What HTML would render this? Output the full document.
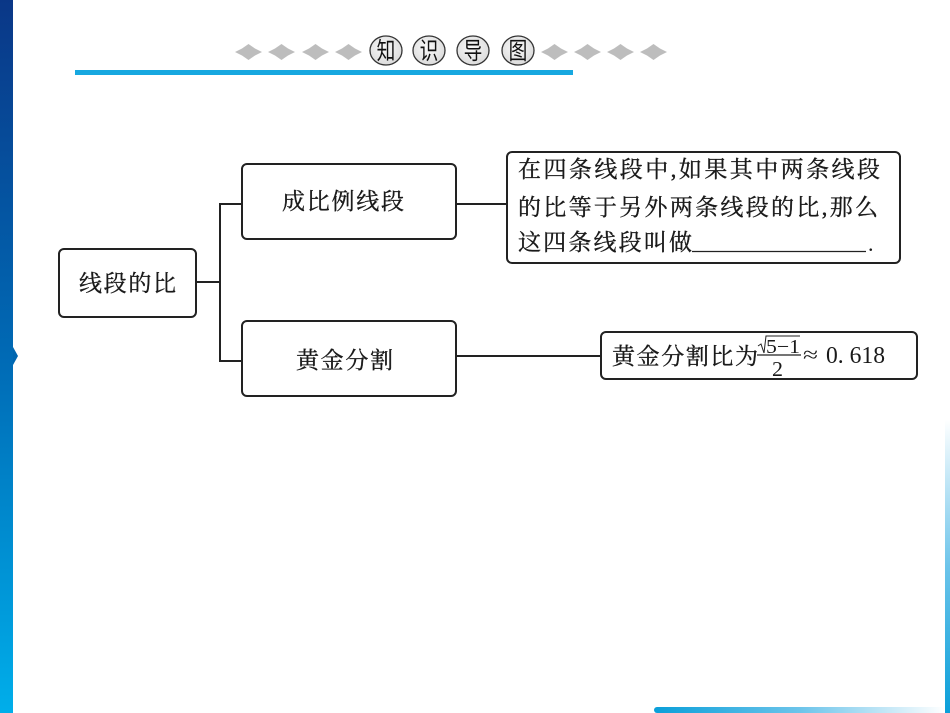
<!DOCTYPE html>
<html>
<head>
<meta charset="utf-8">
<style>
html,body{margin:0;padding:0;background:#fff;}
body{width:950px;height:713px;overflow:hidden;position:relative;}
svg{position:absolute;left:0;top:0;}
.cjk{font-family:"Liberation Serif","Noto Serif CJK SC",serif;fill:#1a1a1a;stroke:#1a1a1a;stroke-width:0.35;}
.hd{font-family:"Liberation Sans","Noto Sans CJK SC",sans-serif;fill:#111;}
.num{font-family:"Liberation Serif","Noto Serif CJK SC",serif;fill:#1a1a1a;}
</style>
</head>
<body>
<svg width="950" height="713" viewBox="0 0 950 713" xmlns="http://www.w3.org/2000/svg">
  <defs>
    <linearGradient id="lb" x1="0" y1="0" x2="0" y2="1">
      <stop offset="0" stop-color="#0a3787"/>
      <stop offset="0.5" stop-color="#006ab5"/>
      <stop offset="1" stop-color="#00aeea"/>
    </linearGradient>
    <linearGradient id="rb" x1="0" y1="0" x2="0" y2="1">
      <stop offset="0" stop-color="#ffffff"/>
      <stop offset="0.5" stop-color="#6cc4ea"/>
      <stop offset="1" stop-color="#0a9fd9"/>
    </linearGradient>
    <linearGradient id="bb" x1="0" y1="0" x2="1" y2="0">
      <stop offset="0" stop-color="#0a9fd9"/>
      <stop offset="0.5" stop-color="#6cc4ea"/>
      <stop offset="1" stop-color="#ffffff"/>
    </linearGradient>
    <radialGradient id="cg" cx="0.45" cy="0.4" r="0.7">
      <stop offset="0" stop-color="#fafafa"/>
      <stop offset="1" stop-color="#d6d6d6"/>
    </radialGradient>
    <g id="dia">
      <polygon points="0,0 7,-3.5 13.5,-8 20,-3.5 27,0 20,3.5 13.5,8 7,3.5" fill="#bdbdbd"/>
    </g>
  </defs>

  <!-- left bar -->
  <rect x="0" y="0" width="13" height="713" fill="url(#lb)"/>
  <polygon points="13,347 18,356 13,365" fill="#0066b0"/>

  <!-- right bar and bottom bar -->
  <rect x="945" y="420" width="5" height="293" fill="url(#rb)"/>
  <rect x="654" y="707" width="291" height="6" rx="3" fill="url(#bb)"/>

  <!-- header -->
  <use href="#dia" x="235" y="52"/>
  <use href="#dia" x="268" y="52"/>
  <use href="#dia" x="302" y="52"/>
  <use href="#dia" x="335" y="52"/>
  <use href="#dia" x="541" y="52"/>
  <use href="#dia" x="574" y="52"/>
  <use href="#dia" x="607" y="52"/>
  <use href="#dia" x="640" y="52"/>

  <ellipse cx="386" cy="50.5" rx="16" ry="14.5" fill="url(#cg)" stroke="#333" stroke-width="1.3"/>
  <ellipse cx="429" cy="50.5" rx="16" ry="14.5" fill="url(#cg)" stroke="#333" stroke-width="1.3"/>
  <ellipse cx="473" cy="50.5" rx="16" ry="14.5" fill="url(#cg)" stroke="#333" stroke-width="1.3"/>
  <ellipse cx="518" cy="50.5" rx="16" ry="14.5" fill="url(#cg)" stroke="#333" stroke-width="1.3"/>
  <text class="hd" x="386" y="59" font-size="24" text-anchor="middle" transform="translate(386 0) scale(0.78 1) translate(-386 0)">知</text>
  <text class="hd" x="429" y="59" font-size="24" text-anchor="middle" transform="translate(429 0) scale(0.78 1) translate(-429 0)">识</text>
  <text class="hd" x="473" y="59" font-size="24" text-anchor="middle" transform="translate(473 0) scale(0.78 1) translate(-473 0)">导</text>
  <text class="hd" x="518" y="59" font-size="24" text-anchor="middle" transform="translate(518 0) scale(0.78 1) translate(-518 0)">图</text>

  <rect x="75" y="70" width="498" height="5" fill="#17a8e0"/>

  <!-- connectors -->
  <g stroke="#222" stroke-width="2" fill="none">
    <line x1="196" y1="282" x2="220" y2="282"/>
    <line x1="220" y1="204" x2="220" y2="362"/>
    <line x1="219" y1="204" x2="242" y2="204"/>
    <line x1="219" y1="361" x2="242" y2="361"/>
    <line x1="456" y1="204" x2="507" y2="204"/>
    <line x1="456" y1="356" x2="601" y2="356"/>
  </g>

  <!-- boxes -->
  <g stroke="#222" stroke-width="2" fill="#fff">
    <rect x="59" y="249" width="137" height="68" rx="5"/>
    <rect x="242" y="164" width="214" height="75" rx="5"/>
    <rect x="242" y="321" width="214" height="75" rx="5"/>
    <rect x="507" y="152" width="393" height="111" rx="5"/>
    <rect x="601" y="332" width="316" height="47" rx="5"/>
  </g>

  <!-- box labels -->
  <text class="cjk" x="79" y="291" font-size="23" textLength="97" lengthAdjust="spacing">线段的比</text>
  <text class="cjk" x="282" y="209" font-size="23" textLength="122" lengthAdjust="spacing">成比例线段</text>
  <text class="cjk" x="296" y="368" font-size="23" textLength="97" lengthAdjust="spacing">黄金分割</text>

  <!-- text box -->
  <text class="cjk" x="518" y="177" font-size="23" textLength="362" lengthAdjust="spacing">在四条线段中,如果其中两条线段</text>
  <text class="cjk" x="518" y="215" font-size="23" textLength="360" lengthAdjust="spacing">的比等于另外两条线段的比,那么</text>
  <text class="cjk" x="518" y="250" font-size="23" textLength="174" lengthAdjust="spacing">这四条线段叫做</text>
  <line x1="692" y1="251.5" x2="866" y2="251.5" stroke="#222" stroke-width="1.3"/>
  <text class="num" x="868" y="251" font-size="22">.</text>

  <!-- golden ratio box -->
  <text class="cjk" x="612" y="364" font-size="23" textLength="146" lengthAdjust="spacing">黄金分割比为</text>
  <!-- fraction -->
  <path d="M758,346 L761,344 L764,353 L766,336 L800,336" stroke="#222" stroke-width="1" fill="none"/>
  <text class="num" x="766" y="353" font-size="20" textLength="34" lengthAdjust="spacingAndGlyphs">5−1</text>
  <line x1="757" y1="355" x2="801" y2="355" stroke="#222" stroke-width="1.3"/>
  <text class="num" x="772" y="376" font-size="21" textLength="11" lengthAdjust="spacingAndGlyphs">2</text>
  <text class="num" x="803" y="362" font-size="22" textLength="15" lengthAdjust="spacingAndGlyphs">≈</text>
  <text class="num" x="826" y="363" font-size="24" textLength="59" lengthAdjust="spacingAndGlyphs">0. 618</text>
</svg>
</body>
</html>
